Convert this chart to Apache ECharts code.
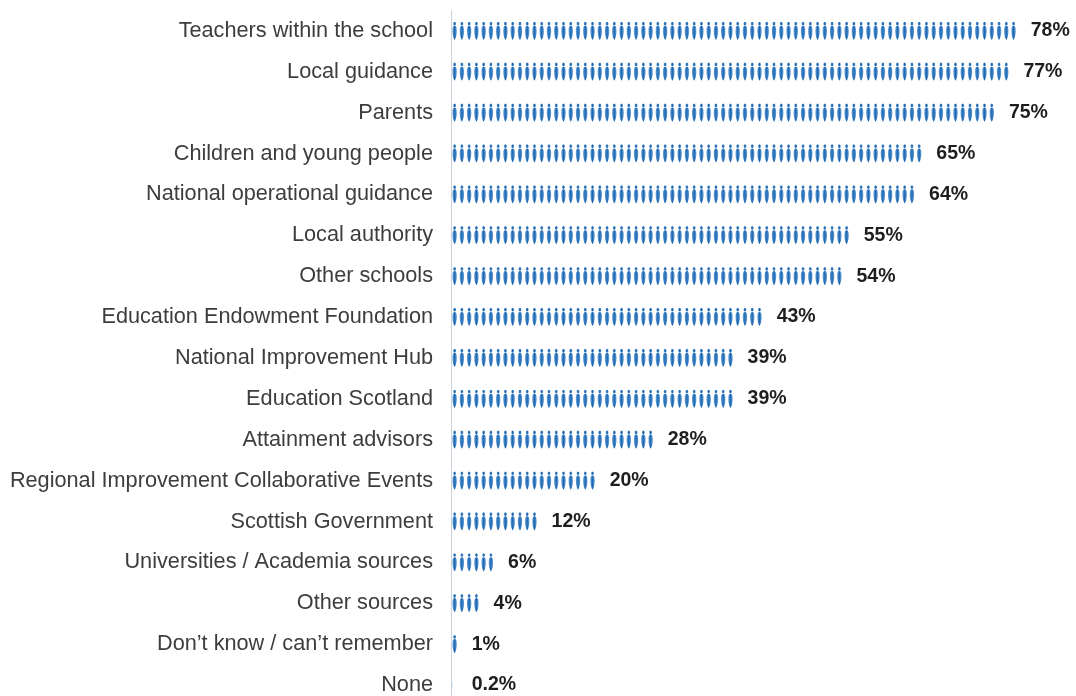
<!DOCTYPE html>
<html>
<head>
<meta charset="utf-8">
<script src="https://cdn.jsdelivr.net/npm/echarts@6/dist/echarts.min.js"></script>
<style>
  html, body { margin: 0; padding: 0; background: #ffffff; }
  #chart { width: 1076px; height: 696px; }
</style>
</head>
<body>
<div id="chart"></div>
<script>
const categories = [
  "Teachers within the school",
  "Local guidance",
  "Parents",
  "Children and young people",
  "National operational guidance",
  "Local authority",
  "Other schools",
  "Education Endowment Foundation",
  "National Improvement Hub",
  "Education Scotland",
  "Attainment advisors",
  "Regional Improvement Collaborative Events",
  "Scottish Government",
  "Universities / Academia sources",
  "Other sources",
  "Don\u2019t know / can\u2019t remember",
  "None"
];
const values = [78, 77, 75, 65, 64, 55, 54, 43, 39, 39, 28, 20, 12, 6, 4, 1, 0.2];

const axisMax = 85;
const gridLeft = 451;
const gridWidth = 617;
const pxPerUnit = gridWidth / axisMax;   // one icon per 1%
const iconW = 4.4;
// tiny epsilon so the repeat count rounds to exactly axisMax icons
const iconMargin = (pxPerUnit - iconW) / 2 + 1e-7;

const person = 'path://M5,0 C7,0 8.2,1.5 8.2,3.8 C8.2,6 7,7.5 5,7.5 C3,7.5 1.8,6 1.8,3.8 C1.8,1.5 3,0 5,0 Z ' +
               'M5,8.5 C8.5,8.5 10,12 10,20 C10,29 8,36 5,40 C2,36 0,29 0,20 C0,12 1.5,8.5 5,8.5 Z';

const iconColor = new echarts.graphic.LinearGradient(0, 0, 1, 0, [
  { offset: 0, color: '#6aa6dc' },
  { offset: 0.5, color: '#1e66b0' },
  { offset: 1, color: '#6aa6dc' }
]);

const chart = echarts.init(document.getElementById('chart'), null, { renderer: 'canvas' });
chart.setOption({
  backgroundColor: '#ffffff',
  animation: false,
  grid: { left: gridLeft, width: gridWidth, top: 10.5, height: 695, containLabel: false, outerBoundsMode: 'none' },
  xAxis: {
    type: 'value', min: 0, max: axisMax,
    show: false
  },
  yAxis: {
    type: 'category',
    data: categories,
    inverse: true,
    axisLine: { show: true, lineStyle: { color: '#c9d2dc', width: 1 } },
    axisTick: { show: false },
    axisLabel: {
      margin: 18,
      fontFamily: 'Liberation Sans, Arial, sans-serif',
      fontSize: 21.7,
      color: '#3d3d3d'
    }
  },
  series: [{
    type: 'pictorialBar',
    data: values,
    symbol: person,
    symbolSize: [iconW, 18],
    symbolRepeat: true,
    symbolMargin: String(iconMargin) + '!',
    symbolClip: true,
    symbolBoundingData: axisMax,
    symbolPosition: 'start',
    itemStyle: { color: iconColor },
    label: {
      show: true,
      position: 'right',
      distance: 13.5,
      formatter: '{c}%',
      fontFamily: 'Liberation Sans, Arial, sans-serif',
      fontWeight: 'bold',
      fontSize: 19.5,
      color: '#1e1e1e'
    }
  }]
});
</script>
</body>
</html>
